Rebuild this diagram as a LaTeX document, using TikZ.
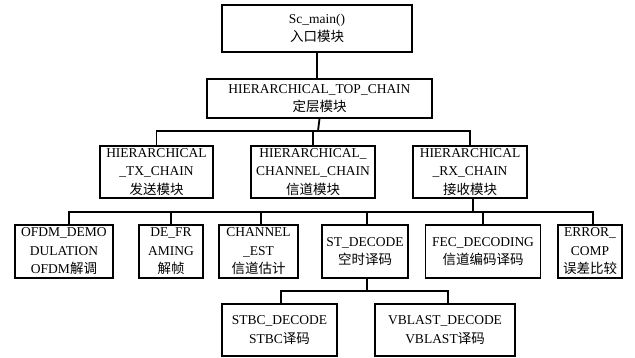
\documentclass[tikz,border=0pt]{standalone}
\usepackage{fontspec}
\setmainfont{Liberation Serif}
\newfontfamily\cjk{Noto Sans CJK SC}
\begin{document}
\begin{tikzpicture}[x=1pt,y=-1pt,
  box/.style={draw,line width=1.8pt,inner sep=0pt,align=center,
    font=\fontsize{13.5}{18.5}\selectfont},
  wire/.style={line width=1.8pt}]
\useasboundingbox (0,0) rectangle (635,358);
% level 1-2
\node[box,minimum width=190pt,minimum height=47pt] (main) at (317,28.5) {Sc\_main()\\{\cjk 入口模块}};
\node[box,minimum width=225pt,minimum height=39pt] (top) at (319.5,98.5) {HIERARCHICAL\_TOP\_CHAIN\\{\cjk 定层模块}};
% level 3
\node[box,minimum width=113pt,minimum height=52pt] (tx) at (156.5,172) {HIERARCHICAL\\\_TX\_CHAIN\\{\cjk 发送模块}};
\node[box,minimum width=124pt,minimum height=52pt] (ch) at (313,172) {HIERARCHICAL\_\\CHANNEL\_CHAIN\\{\cjk 信道模块}};
\node[box,minimum width=114pt,minimum height=52pt] (rx) at (470,172) {HIERARCHICAL\\\_RX\_CHAIN\\{\cjk 接收模块}};
% level 4
\node[box,minimum width=98pt,minimum height=53pt] (ofdm) at (64,251.5) {OFDM\_DEMO\\DULATION\\OFDM{\cjk 解调}};
\node[box,minimum width=64pt,minimum height=53pt] (defr) at (171,251.5) {DE\_FR\\AMING\\{\cjk 解帧}};
\node[box,minimum width=79pt,minimum height=53pt] (chest) at (258.5,251.5) {CHANNEL\\\_EST\\{\cjk 信道估计}};
\node[box,minimum width=86pt,minimum height=53pt] (st) at (365,251.5) {ST\_DECODE\\{\cjk 空时译码}};
\node[box,minimum width=115pt,minimum height=53pt] (fec) at (483,251.5) {FEC\_DECODING\\{\cjk 信道编码译码}};
\node[box,minimum width=64pt,minimum height=53pt] (err) at (590,251.5) {ERROR\_\\COMP\\{\cjk 误差比较}};
% level 5
\node[box,minimum width=115pt,minimum height=52pt] (stbc) at (279.5,330) {STBC\_DECODE\\STBC{\cjk 译码}};
\node[box,minimum width=140pt,minimum height=52pt] (vblast) at (445,330) {VBLAST\_DECODE\\VBLAST{\cjk 译码}};
% coordinates for buses
\coordinate (b1) at (318,131);
\coordinate (b2) at (473,212);
\coordinate (b3) at (367,291);
% connectors
\draw[wire] (main.south) -- (main.south |- top.north);
\draw[wire] (top.south) -- (b1);
\draw[wire] (tx.north) -- (tx.north |- b1) -- (rx.north |- b1) -- (rx.north);
\draw[wire] (ch.north) -- (ch.north |- b1);
\draw[wire] ([xshift=3pt]rx.south) -- (b2);
\draw[wire] ([xshift=5pt]ofdm.north) -- ([xshift=5pt]ofdm.north |- b2) -- ([xshift=3pt]err.north |- b2) -- ([xshift=3pt]err.north);
\draw[wire] (defr.north) -- (defr.north |- b2);
\draw[wire] ([xshift=2.5pt]chest.north) -- ([xshift=2.5pt]chest.north |- b2);
\draw[wire] ([xshift=2pt]st.north) -- ([xshift=2pt]st.north |- b2);
\draw[wire] (fec.north) -- (fec.north |- b2);
\draw[wire] ([xshift=2pt]st.south) -- (b3);
\draw[wire] ([xshift=1.5pt]stbc.north) -- ([xshift=1.5pt]stbc.north |- b3) -- ([xshift=3pt]vblast.north |- b3) -- ([xshift=3pt]vblast.north);
\end{tikzpicture}
\end{document}
